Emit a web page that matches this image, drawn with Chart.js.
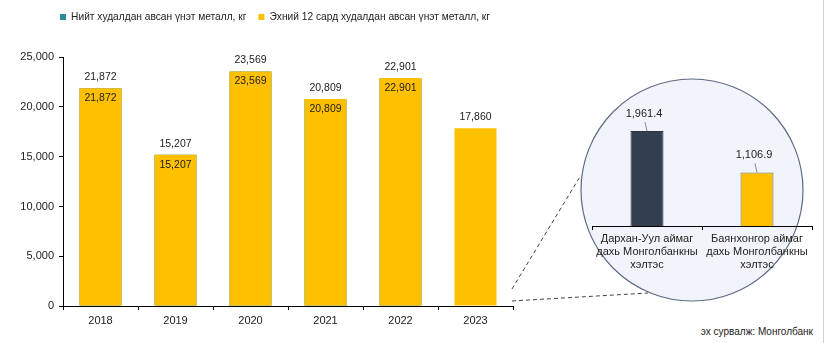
<!DOCTYPE html>
<html>
<head>
<meta charset="utf-8">
<script src="https://cdn.jsdelivr.net/npm/chart.js@4.4.0/dist/chart.umd.min.js"></script>
<style>
    body { margin: 0; background: #fff; }
    .wrap { position: relative; width: 825px; height: 343px; overflow: hidden; font-family: "Liberation Sans", Arial, sans-serif; }
    #mainChart { position: absolute; left: 0; top: 0; }
    #insetChart { position: absolute; left: 580px; top: 80px; }
    .lens { position: absolute; left: 0; top: 0; }
    .source { position: absolute; right: 12px; top: 326px; font-size: 10px; color: #222; }
    .edge { position: absolute; left: 823px; top: 0; width: 1px; height: 343px; background: #d0d0d0; }
</style>
</head>
<body>
<div class="wrap">
    <svg class="lens" width="825" height="343">
        <circle cx="692" cy="190" r="111" fill="#f1f4fa" stroke="#5d6b86" stroke-width="1.2"/>
        <line x1="512" y1="289" x2="581" y2="175" stroke="#444" stroke-width="1" stroke-dasharray="4,3"/>
        <line x1="512" y1="301" x2="648" y2="293" stroke="#444" stroke-width="1" stroke-dasharray="4,3"/>
    </svg>
    <canvas id="mainChart" width="550" height="343"></canvas>
    <canvas id="insetChart" width="240" height="220"></canvas>
    <div class="source">эх сурвалж: Монголбанк</div>
    <div class="edge"></div>
</div>
<script>
// main chart data
const years = ['2018', '2019', '2020', '2021', '2022', '2023']
const totalBought = [21872, 15207, 23569, 20809, 22901, 17860]
const first12Months = [21872, 15207, 23569, 20809, 22901, null]
const yTicks = [0, 5000, 10000, 15000, 20000, 25000]

// inset data
const branches = [
    ['Дархан-Уул аймаг', 'дахь Монголбанкны', 'хэлтэс'],
    ['Баянхонгор аймаг', 'дахь Монголбанкны', 'хэлтэс']
]
const branchValues = [1961.4, 1106.9]

const teal = '#2f8a9b'
const gold = '#FFC000'
const fontFamily = '"Liberation Sans", Arial, sans-serif'

const fmt = (v, d) => v.toLocaleString('en-US', { minimumFractionDigits: d, maximumFractionDigits: d })

// push the plot down below the legend, and centre the legend on the whole canvas
const legendGap = {
    id: 'legendGap',
    beforeInit(chart) {
        const fit = chart.legend.fit
        chart.legend.fit = function () {
            fit.bind(chart.legend)()
            this.height += 25
        }
    },
    afterLayout(chart) {
        chart.legend.right = chart.width
    }
}

const barLabels = {
    id: 'barLabels',
    afterDatasetsDraw(chart) {
        const ctx = chart.ctx
        ctx.save()
        ctx.font = '10.5px ' + fontFamily
        ctx.fillStyle = '#222'
        ctx.textAlign = 'center'
        ctx.textBaseline = 'middle'
        chart.getDatasetMeta(0).data.forEach((bar, i) => {
            if (totalBought[i] == null) return
            ctx.fillText(fmt(totalBought[i], 0), bar.x, bar.y - 11)
        })
        chart.getDatasetMeta(1).data.forEach((bar, i) => {
            if (first12Months[i] == null) return
            ctx.fillText(fmt(first12Months[i], 0), bar.x, bar.y + 10)
        })
        ctx.restore()
    }
}

new Chart(document.getElementById('mainChart'), {
    type: 'bar',
    data: {
        labels: years,
        datasets: [{
            label: 'Нийт худалдан авсан үнэт металл, кг',
            data: totalBought,
            backgroundColor: [teal, teal, teal, teal, teal, gold],
            grouped: false,
            order: 1
        }, {
            label: 'Эхний 12 сард худалдан авсан үнэт металл, кг',
            data: first12Months,
            backgroundColor: gold,
            grouped: false,
            order: 0
        }]
    },
    options: {
        responsive: false,
        animation: false,
        layout: { padding: { top: 0, right: 37, left: 0, bottom: 0 } },
        datasets: { bar: { barPercentage: 0.56, categoryPercentage: 1 } },
        plugins: {
            legend: {
                position: 'top',
                labels: {
                    boxWidth: 6,
                    boxHeight: 6,
                    padding: 12,
                    color: '#222',
                    font: { family: fontFamily, size: 10.2 },
                    sort: (a, b) => a.datasetIndex - b.datasetIndex,
                    generateLabels: (chart) => {
                        const items = Chart.defaults.plugins.legend.labels.generateLabels(chart)
                        items.forEach(it => {
                            it.fillStyle = it.datasetIndex === 0 ? teal : gold
                            it.strokeStyle = it.fillStyle
                        })
                        return items
                    }
                }
            },
            tooltip: { enabled: false }
        },
        scales: {
            x: {
                grid: { drawOnChartArea: false, tickLength: 4, color: '#000' },
                border: { color: '#000' },
                ticks: { color: '#222', padding: 4, font: { family: fontFamily, size: 11 } },
                afterFit: (scale) => { scale.height = 37 }
            },
            y: {
                min: 0,
                max: 25000,
                afterBuildTicks: (scale) => { scale.ticks = yTicks.map(v => ({ value: v })) },
                grid: { drawOnChartArea: false, tickLength: 4, color: '#000' },
                border: { color: '#000' },
                ticks: {
                    color: '#222',
                    padding: 5,
                    font: { family: fontFamily, size: 11 },
                    callback: (v) => fmt(v, 0)
                },
                afterFit: (scale) => { scale.width = 63 }
            }
        }
    },
    plugins: [legendGap, barLabels]
})

const insetLabels = {
    id: 'insetLabels',
    afterDatasetsDraw(chart) {
        const ctx = chart.ctx
        ctx.save()
        ctx.font = '11px ' + fontFamily
        ctx.fillStyle = '#222'
        ctx.strokeStyle = '#888'
        ctx.lineWidth = 1
        ctx.textAlign = 'center'
        ctx.textBaseline = 'middle'
        chart.getDatasetMeta(0).data.forEach((bar, i) => {
            ctx.beginPath()
            ctx.moveTo(bar.x, bar.y)
            ctx.lineTo(bar.x - 2, bar.y - 9)
            ctx.stroke()
            ctx.fillText(fmt(branchValues[i], 1), bar.x - 3, bar.y - 17)
        })
        ctx.restore()
    }
}

new Chart(document.getElementById('insetChart'), {
    type: 'bar',
    data: {
        labels: branches,
        datasets: [{
            data: branchValues,
            backgroundColor: ['#333f50', gold],
            borderColor: ['#2a3442', '#6b6b6b'],
            borderWidth: 1,
            borderSkipped: 'bottom',
            barPercentage: 0.3,
            categoryPercentage: 1
        }]
    },
    options: {
        responsive: false,
        animation: false,
        layout: { padding: { top: 25, left: 12, right: 8, bottom: 0 } },
        plugins: { legend: { display: false }, tooltip: { enabled: false } },
        scales: {
            x: {
                grid: { drawOnChartArea: false, tickLength: 4, color: '#000' },
                border: { color: '#000' },
                ticks: { color: '#222', padding: 2, maxRotation: 0, font: { family: fontFamily, size: 11 } },
                afterFit: (scale) => { scale.height = 74 }
            },
            y: { display: false, min: 0, max: 2500 }
        }
    },
    plugins: [insetLabels]
})
</script>
</body>
</html>
